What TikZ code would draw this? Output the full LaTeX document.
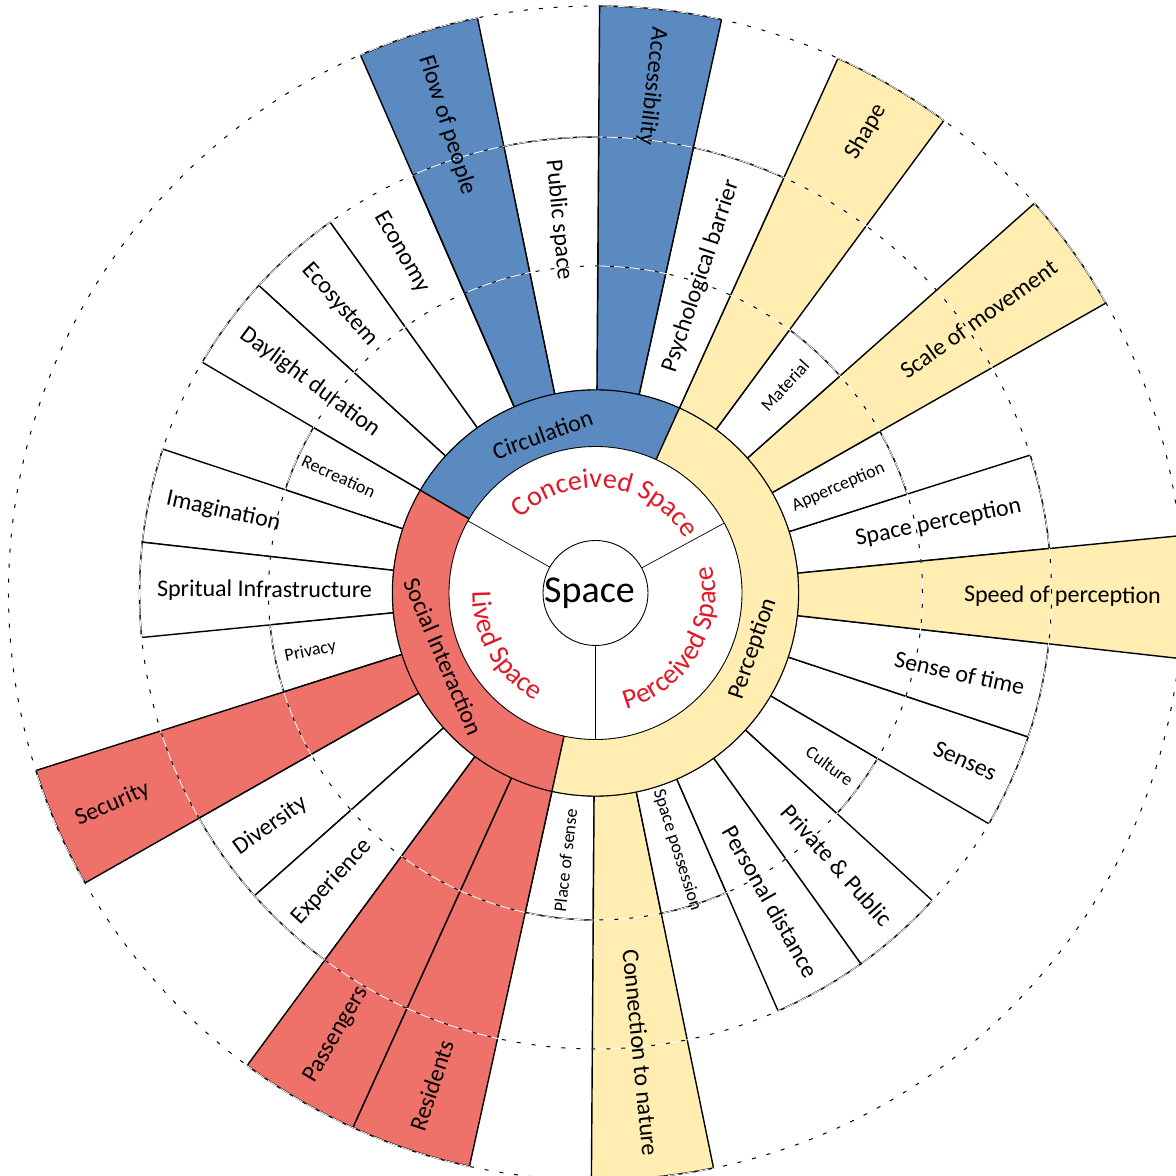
\documentclass[tikz,border=0pt]{standalone}
\usepackage{fontspec}
\setmainfont{Carlito}
\usetikzlibrary{decorations.text}
\definecolor{circblue}{RGB}{91,138,192}
\definecolor{percyellow}{RGB}{255,237,178}
\definecolor{socred}{RGB}{239,114,106}
\definecolor{lblred}{RGB}{226,24,40}
\tikzset{%
  % Specifications for style of lines:
   spoke/.style={
           draw=black,
           line width=0.7pt,},
   ringline/.style={
           draw=black,
           line width=0.45pt,},
   divider/.style={
           draw=black,
           line width=0.35pt,},
   dashring/.style={
           black,
           line width=0.5pt,
           dash pattern=on 2pt off 5.5pt,},
   dashunder/.style={
           white,
           line width=0.4pt,},
  % Specifications for style of texts:
   biglbl/.style = {inner sep=0pt, font=\fontsize{12}{14}\selectfont},
   smalllbl/.style = {inner sep=0pt, font=\fontsize{9}{11}\selectfont},
   ringlbl/.style = {inner sep=0pt, font=\fontsize{12}{14}\selectfont},
   centrelbl/.style = {inner sep=0pt, font=\fontsize{19}{22}\selectfont},
}

\begin{document}
\begin{tikzpicture}[x=0.5pt, y=0.5pt]
  \useasboundingbox (-595.5,-583) rectangle (580.5,593);
  \clip (-595.5,-583) rectangle (580.5,593);

  % Bars of the perception ring
  \draw[spoke, fill=white] (5.6:203) arc (5.6:17.6:203) -- (17.6:456) arc (17.6:5.6:456) -- cycle;
  \draw[spoke, fill=white] (17.6:203) arc (17.6:29.6:203) -- (29.6:327) arc (29.6:17.6:327) -- cycle;
  \draw[spoke, fill=percyellow] (29.6:203) arc (29.6:41.6:203) -- (41.6:587) arc (41.6:29.6:587) -- cycle;
  \draw[spoke, fill=white] (41.6:203) arc (41.6:53.6:203) -- (53.6:327) arc (53.6:41.6:327) -- cycle;
  \draw[spoke, fill=percyellow] (53.6:203) arc (53.6:65.6:203) -- (65.6:587) arc (65.6:53.6:587) -- cycle;
  \draw[spoke, fill=white] (257.6:203) arc (257.6:269.6:203) -- (269.6:327) arc (269.6:257.6:327) -- cycle;
  \draw[spoke, fill=percyellow] (269.6:203) arc (269.6:281.6:203) -- (281.6:587) arc (281.6:269.6:587) -- cycle;
  \draw[spoke, fill=white] (281.6:203) arc (281.6:293.6:203) -- (293.6:327) arc (293.6:281.6:327) -- cycle;
  \draw[spoke, fill=white] (293.6:203) arc (293.6:305.6:203) -- (305.6:456) arc (305.6:293.6:456) -- cycle;
  \draw[spoke, fill=white] (305.6:203) arc (305.6:317.6:203) -- (317.6:456) arc (317.6:305.6:456) -- cycle;
  \draw[spoke, fill=white] (317.6:203) arc (317.6:329.6:203) -- (329.6:327) arc (329.6:317.6:327) -- cycle;
  \draw[spoke, fill=white] (329.6:203) arc (329.6:341.6:203) -- (341.6:456) arc (341.6:329.6:456) -- cycle;
  \draw[spoke, fill=white] (341.6:203) arc (341.6:353.6:203) -- (353.6:456) arc (353.6:341.6:456) -- cycle;
  \draw[spoke, fill=percyellow] (353.6:203) arc (353.6:365.6:203) -- (365.6:587) arc (365.6:353.6:587) -- cycle;

  % Bars of the circulation ring
  \draw[spoke, fill=white] (65.6:203) arc (65.6:77.6:203) -- (77.6:456) arc (77.6:65.6:456) -- cycle;
  \draw[spoke, fill=circblue] (77.6:203) arc (77.6:89.6:203) -- (89.6:587) arc (89.6:77.6:587) -- cycle;
  \draw[spoke, fill=white] (89.6:203) arc (89.6:101.6:203) -- (101.6:456) arc (101.6:89.6:456) -- cycle;
  \draw[spoke, fill=circblue] (101.6:203) arc (101.6:113.6:203) -- (113.6:587) arc (113.6:101.6:587) -- cycle;
  \draw[spoke] (113.6:456) -- (113.6:203) arc (113.6:125.6:203) -- (125.6:456);
  \draw[spoke, fill=white] (125.6:203) arc (125.6:137.6:203) -- (137.6:456) arc (137.6:125.6:456) -- cycle;
  \draw[spoke, fill=white] (137.6:203) arc (137.6:149.6:203) -- (149.6:456) arc (149.6:137.6:456) -- cycle;

  % Bars of the social interaction ring
  \draw[spoke, fill=white] (149.6:203) arc (149.6:161.6:203) -- (161.6:327) arc (161.6:149.6:327) -- cycle;
  \draw[spoke, fill=white] (161.6:203) arc (161.6:173.6:203) -- (173.6:456) arc (173.6:161.6:456) -- cycle;
  \draw[spoke, fill=white] (173.6:203) arc (173.6:185.6:203) -- (185.6:456) arc (185.6:173.6:456) -- cycle;
  \draw[spoke, fill=white] (185.6:203) arc (185.6:197.6:203) -- (197.6:327) arc (197.6:185.6:327) -- cycle;
  \draw[spoke, fill=socred] (197.6:203) arc (197.6:209.6:203) -- (209.6:587) arc (209.6:197.6:587) -- cycle;
  \draw[spoke, fill=white] (209.6:203) arc (209.6:221.6:203) -- (221.6:456) arc (221.6:209.6:456) -- cycle;
  \draw[spoke, fill=white] (221.6:203) arc (221.6:233.6:203) -- (233.6:456) arc (233.6:221.6:456) -- cycle;
  \draw[spoke, fill=socred] (233.6:203) arc (233.6:245.6:203) -- (245.6:587) arc (245.6:233.6:587) -- cycle;
  \draw[spoke, fill=socred] (245.6:203) arc (245.6:257.6:203) -- (257.6:587) arc (257.6:245.6:587) -- cycle;

  % Dashed guide circles
  \foreach \r in {327,456,587}{
    \draw[dashunder] (0,0) circle[radius=\r];
    \draw[dashring] (0,0) circle[radius=\r];
  }

  % Middle ring
  \fill[circblue] (65.6:146.5) arc (65.6:149.6:146.5) -- (149.6:203) arc (149.6:65.6:203) -- cycle;
  \fill[socred] (149.6:146.5) arc (149.6:257.6:146.5) -- (257.6:203) arc (257.6:149.6:203) -- cycle;
  \fill[percyellow] (257.6:146.5) arc (257.6:425.6:146.5) -- (425.6:203) arc (425.6:257.6:203) -- cycle;
  \draw[ringline] (0,0) circle[radius=203];
  \draw[ringline, fill=white] (0,0) circle[radius=146.5];
  \draw[spoke] (65.6:146.5) -- (65.6:203);
  \draw[spoke] (149.6:146.5) -- (149.6:203);
  \draw[spoke] (257.6:146.5) -- (257.6:203);

  % Inner ring
  \draw[divider] (28.5:52.5) -- (28.5:146.5);
  \draw[divider] (150.5:52.5) -- (150.5:146.5);
  \draw[divider] (270:52.5) -- (270:146.5);
  \draw[ringline, fill=white] (0,0) circle[radius=52.5];
  \node[centrelbl] (Space_block) at (-6,0) {Space};

  \path[decorate, decoration={text along path, text align=center,
      text={|\fontsize{14}{16}\selectfont\color{lblred}|Conceived Space}}]
      (142:105) arc (142:24:105);
  \path[decorate, decoration={text along path, text align=center,
      text={|\fontsize{14}{16}\selectfont\color{lblred}|Perceived Space}}]
      (-92:120) arc (-92:30:120);
  \path[decorate, decoration={text along path, text align=center,
      text={|\fontsize{14}{16}\selectfont\color{lblred}|Lived Space}}]
      (150:123) arc (150:270:123);

  % Ring labels
  \node[ringlbl, rotate=20] (Circulation_block) at (108.5:167) {Circulation};
  \node[ringlbl, rotate=-67] (Social_block) at (202.6:165) {Social Interaction};
  \node[ringlbl, rotate=71] (Perception_block) at (-19.5:167) {Perception};

  % Bar labels
  \node[biglbl, rotate=11.6] (SpacePerc_label) at (11.6:350) {Space perception};
  \node[smalllbl, rotate=23.6] (Apperc_label) at (23.6:265) {Apperception};
  \node[biglbl, rotate=35.6] (ScaleMove_label) at (35.6:471) {Scale of movement};
  \node[smalllbl, rotate=47.6] (Material_label) at (47.6:281) {Material};
  \node[biglbl, rotate=59.6] (Shape_label) at (59.6:535) {Shape};
  \node[biglbl, rotate=71.6] (PsyBarrier_label) at (71.6:334) {Psychological barrier};
  \node[biglbl, rotate=-96.4] (Access_label) at (83.6:510) {Accessibility};
  \node[biglbl, rotate=-84.4] (PublicSpace_label) at (95.6:375) {Public space};
  \node[biglbl, rotate=-72.4] (FlowPeople_label) at (107.6:491) {Flow of people};
  \node[biglbl, rotate=-60.4] (Economy_label) at (119.6:392) {Economy};
  \node[biglbl, rotate=-48.4] (Ecosystem_label) at (131.6:385) {Ecosystem};
  \node[biglbl, rotate=-36.4] (Daylight_label) at (143.6:355) {Daylight duration};
  \node[smalllbl, rotate=-24.4] (Recreation_label) at (155.6:282) {Recreation};
  \node[biglbl, rotate=-12.4] (Imagination_label) at (167.6:381) {Imagination};
  \node[biglbl, rotate=-0.4] (Spiritual_label) at (179.6:331) {Spritual Infrastructure};
  \node[smalllbl, rotate=11.6] (Privacy_label) at (191.6:291) {Privacy};
  \node[biglbl, rotate=23.6] (Security_label) at (203.6:527) {Security};
  \node[biglbl, rotate=35.6] (Diversity_label) at (215.6:400) {Diversity};
  \node[biglbl, rotate=47.6] (Experience_label) at (227.6:391) {Experience};
  \node[biglbl, rotate=59.6] (Passengers_label) at (239.6:512) {Passengers};
  \node[biglbl, rotate=71.6] (Residents_label) at (251.6:519) {Residents};
  \node[smalllbl, rotate=83.6] (PlaceSense_label) at (263.6:269) {Place of sense};
  \node[biglbl, rotate=-84.4] (Nature_label) at (-84.4:462) {Connection to nature};
  \node[smalllbl, rotate=-72.4] (Possession_label) at (-72.4:270) {Space possession};
  \node[biglbl, rotate=-60.4] (PersDistance_label) at (-60.4:355) {Personal distance};
  \node[biglbl, rotate=-48.4] (PrivPublic_label) at (-48.4:364) {Private \& Public};
  \node[smalllbl, rotate=-36.4] (Culture_label) at (-36.4:291) {Culture};
  \node[biglbl, rotate=-24.4] (Senses_label) at (-24.4:406) {Senses};
  \node[biglbl, rotate=-12.4] (SenseTime_label) at (-12.4:373) {Sense of time};
  \node[biglbl, rotate=-0.4] (SpeedPerc_label) at (-0.4:467) {Speed of perception};

\end{tikzpicture}
\end{document}
